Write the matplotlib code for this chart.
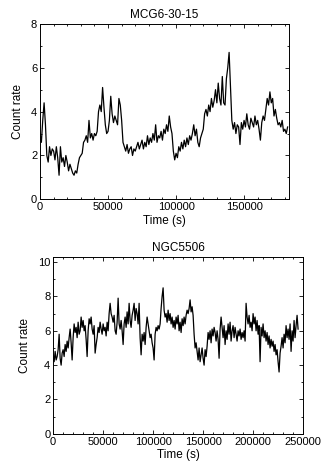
import matplotlib
matplotlib.use("Agg")
import matplotlib.pyplot as plt
import numpy as np
from matplotlib.ticker import MultipleLocator

plt.rcParams["font.family"] = ["Liberation Sans", "DejaVu Sans"]

# MCG6-30-15 light curve, one value per 1000 s
mcg_rate = [
    3.0, 2.6, 3.6, 4.4, 3.4, 2.0, 1.7, 2.4, 2.0, 2.3,
    2.2, 1.8, 2.4, 1.9, 1.1, 2.4, 1.7, 1.9, 1.5, 2.0,
    1.7, 1.3, 1.6, 1.4, 1.2, 1.1, 1.3, 1.2, 1.6, 1.9,
    2.0, 2.1, 2.6, 2.7, 2.9, 2.6, 3.6, 2.8, 3.0, 2.7,
    3.0, 2.9, 3.1, 4.0, 4.3, 4.0, 5.1, 4.2, 3.4, 3.0,
    3.1, 3.6, 4.7, 3.9, 3.5, 3.8, 3.6, 3.4, 4.6, 4.3,
    3.6, 2.6, 2.4, 2.2, 2.5, 2.1, 2.3, 2.4, 2.0, 2.3,
    2.2, 2.4, 2.6, 2.3, 2.5, 2.7, 2.3, 2.6, 2.4, 2.9,
    2.5, 2.8, 2.6, 3.0, 2.7, 3.4, 2.6, 2.9, 2.8, 3.1,
    2.7, 3.2, 3.0, 3.4, 3.1, 3.8, 3.3, 3.0, 2.2, 1.8,
    2.1, 1.9, 2.4, 2.2, 2.6, 2.3, 2.7, 2.4, 2.8, 2.5,
    2.9, 2.7, 3.0, 3.4, 2.9, 3.2, 2.6, 2.4, 2.8, 3.0,
    3.2, 3.9, 4.1, 3.8, 4.3, 4.0, 4.6, 4.2, 4.5, 5.0,
    4.4, 5.3, 4.6, 4.3, 5.6, 4.4, 4.3, 5.5, 6.0, 6.7,
    5.2, 3.6, 3.2, 3.5, 3.0, 3.4, 3.3, 2.5, 3.5, 3.2,
    3.6, 3.3, 3.9, 3.4, 3.2, 3.7, 3.5, 3.3, 3.8, 3.4,
    3.6, 3.2, 2.7, 3.5, 3.8, 3.6, 4.1, 4.6, 4.3, 4.9,
    4.4, 4.6, 3.8, 4.1, 3.7, 3.4, 3.5, 3.3, 3.6, 3.1,
    3.2, 3.0, 3.3,
]
mcg_time = np.arange(len(mcg_rate)) * 1000

# NGC5506 light curve, one value per 1000 s
ngc_rate = [
    4.6, 4.2, 4.8, 4.3, 4.5, 4.9, 5.8, 4.4, 4.0, 4.7,
    4.9, 4.5, 5.2, 4.8, 5.4, 5.0, 5.6, 6.1, 5.3, 4.3,
    5.6, 6.4, 5.9, 6.2, 5.6, 6.5, 5.8, 6.0, 6.8, 6.2,
    6.6, 6.0, 6.3, 5.5, 4.5, 6.0, 6.7, 6.4, 6.8, 6.1,
    5.8, 6.3, 4.7, 5.2, 5.6, 6.2, 5.9, 6.5, 6.1, 5.8,
    6.4, 6.0, 6.2, 5.7, 6.5, 6.0, 7.0, 7.6, 7.0, 6.8,
    6.5, 6.9, 6.0, 5.8, 6.5, 7.9, 6.4, 6.1, 6.6, 6.0,
    5.2, 6.4, 6.8, 6.2, 7.1, 6.4, 7.6, 6.6, 6.2, 6.9,
    7.2, 7.6, 6.6, 7.3, 7.0, 6.4, 7.6, 5.6, 4.6, 5.8,
    5.4, 5.9, 5.2, 6.2, 6.8, 6.4, 6.0, 5.6, 5.8, 5.3,
    5.0, 4.3, 5.8, 6.2, 6.0, 6.3, 6.1, 6.4, 7.3, 8.0,
    8.5, 7.2, 6.8, 7.0, 6.5, 7.2, 6.6, 7.0, 6.4, 6.8,
    6.2, 6.6, 6.1, 6.8, 6.4, 6.9, 6.0, 6.5, 5.9, 6.7,
    6.3, 6.8, 6.4, 6.9, 7.2, 7.0, 7.3, 7.8, 7.1, 7.4,
    6.9, 5.8, 5.0, 5.3, 4.8, 4.3, 5.0, 4.2, 4.6, 5.0,
    4.4, 4.0, 4.9, 4.5, 5.1, 5.9, 5.5, 6.0, 5.3, 6.1,
    5.7, 6.2, 5.9, 5.4, 6.0, 5.5, 4.4, 6.1, 6.8, 6.2,
    5.6, 6.3, 5.2, 6.0, 5.5, 6.4, 5.8, 6.5, 5.4, 6.0,
    6.3, 5.6, 6.2, 5.8, 5.4, 6.0, 5.7, 6.1, 5.5, 5.9,
    5.6, 6.0, 5.4, 7.6, 6.8, 6.4, 6.9, 6.2, 6.5, 6.0,
    7.0, 6.4, 6.8, 6.0, 6.6, 5.8, 6.3, 4.2, 6.2, 5.7,
    6.4, 5.6, 6.0, 5.4, 5.9, 5.2, 5.7, 5.0, 5.5, 5.1,
    5.4, 4.8, 5.2, 4.6, 4.9, 4.2, 3.6, 4.7, 5.1, 5.6,
    5.0, 5.8, 5.3, 6.3, 5.6, 6.1, 5.5, 6.4, 4.8, 6.0,
    5.4, 6.6, 5.6, 6.3, 6.9, 6.1,
]
ngc_time = np.arange(len(ngc_rate)) * 1000


def style(ax, xmax, ymax):
    ax.set_xlim(0, xmax)
    ax.set_ylim(0, ymax)
    ax.xaxis.set_major_locator(MultipleLocator(50000))
    ax.xaxis.set_minor_locator(MultipleLocator(10000))
    ax.yaxis.set_major_locator(MultipleLocator(2))
    ax.yaxis.set_minor_locator(MultipleLocator(1))
    ax.tick_params(which="both", direction="in", top=True, right=True,
                   labelsize=8, width=0.6, pad=2)
    ax.tick_params(which="major", length=3)
    ax.tick_params(which="minor", length=1.5)
    for s in ax.spines.values():
        s.set_linewidth(0.7)
    ax.set_xlabel("Time (s)", fontsize=8.5, labelpad=2)
    ax.set_ylabel("Count rate", fontsize=8.5, labelpad=5)


fig = plt.figure(figsize=(3.28, 4.68), dpi=100)

ax1 = fig.add_axes([0.122, 0.574, 0.759, 0.375])
ax1.plot(mcg_time, mcg_rate, color="black", lw=0.9)
style(ax1, 183000, 8)
ax1.set_title("MCG6-30-15", fontsize=8.5, pad=4)

ax2 = fig.add_axes([0.162, 0.073, 0.762, 0.378])
ax2.plot(ngc_time, ngc_rate, color="black", lw=0.9)
style(ax2, 250000, 10.3)
ax2.set_title("NGC5506", fontsize=8.5, pad=4)

fig.savefig("out.png", dpi=100)
